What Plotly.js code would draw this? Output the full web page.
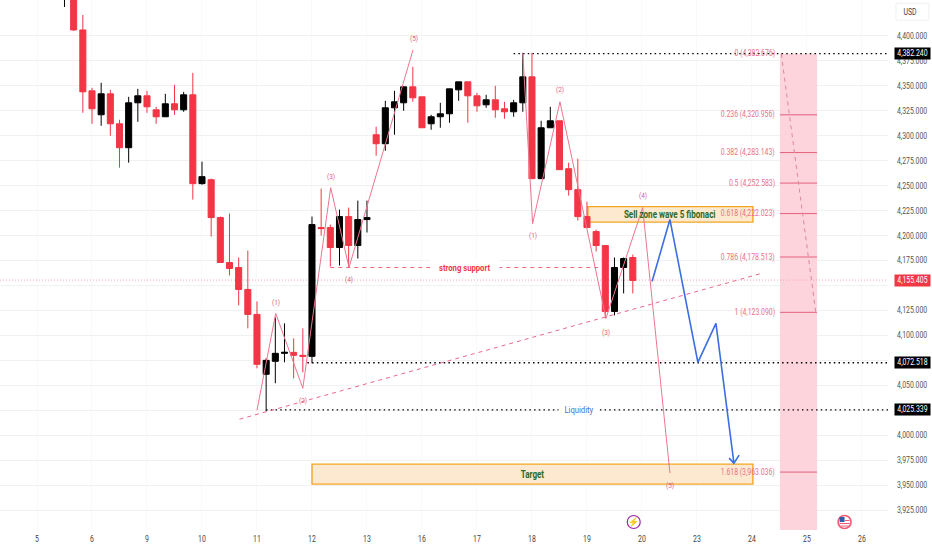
<!DOCTYPE html>
<html><head><meta charset="utf-8">
<script src="https://cdn.plot.ly/plotly-3.0.1.min.js"></script>
<style>html,body{margin:0;padding:0;background:#fff}#c{width:932px;height:550px}</style>
</head><body><div id="c"></div>
<script>
// candle series (4h bars, index from the "5" tick)
const barIndex = [2,3,4,5,6,7,8,9,10,11,12,13,14,15,16,17,18,19,20,21,22,23,24,25,26,27,28,29,30,31,32,33,34,35,36,37,38,39,40,41,42,43,44,45,46,47,48,49,50,51,52,53,54,55,56,57,58,59,60,61,62,63,64,65];
const opens  = [4470,4445,4470,4406,4345,4321,4342,4312,4288,4333,4340,4326,4319,4332,4326,4341,4252,4256,4218,4173,4168,4146,4121,4061,4074,4082,4083,4080,4079,4208,4208,4188,4219,4190,4216,4301,4292,4328,4333,4349,4339,4312,4319,4322,4346,4354,4340,4331,4336,4327,4324,4333,4359,4257,4308,4315,4267,4246,4219,4204,4190,4124,4168,4178];
const highs  = [4480,4480,4480,4421,4348,4353,4346,4316,4339,4347,4345,4329,4342,4351,4344,4363,4274,4257,4219,4222,4178,4185,4134,4077,4118,4112,4097,4107,4219,4247,4211,4226,4228,4235,4235,4309,4335,4345,4349,4369,4339,4321,4333,4347,4354,4354,4343,4341,4350,4334,4336,4383,4383,4315,4329,4315,4273,4277,4234,4206,4190,4178,4178,4181];
const lows   = [4436,4429,4405,4323,4312,4310,4300,4268,4273,4314,4323,4312,4319,4321,4324,4236,4251,4199,4173,4160,4130,4107,4067,4024,4052,4073,4057,4063,4072,4200,4169,4170,4168,4177,4203,4280,4285,4301,4325,4334,4308,4306,4308,4313,4335,4313,4324,4328,4318,4317,4319,4324,4257,4257,4308,4266,4240,4215,4208,4184,4117,4120,4142,4142];
const closes = [4460,4470,4406,4344,4327,4342,4312,4288,4333,4340,4329,4319,4332,4326,4341,4252,4259,4218,4173,4167,4146,4121,4071,4075,4082,4083,4080,4079,4211,4207,4188,4219,4190,4216,4218,4292,4328,4334,4349,4338,4308,4319,4322,4347,4354,4340,4330,4336,4326,4324,4333,4359,4257,4308,4315,4266,4246,4219,4208,4190,4124,4168,4177,4155];

// axes
const xTickVals = [0,6,12,18,24,30,36,42,48,54,60,66,72,78,84,90];
const xTickText = ['5','6','9','10','11','12','13','16','17','18','19','20','23','24','25','26'];
const yTickVals = [3925,3950,3975,4000,4025,4050,4075,4100,4125,4150,4175,4200,4225,4250,4275,4300,4325,4350,4375,4400];
const yTicksBehindTags = [4075,4150];

// elliott wave paths and labels
const waveAX = [24,26.04,29,32.04,34.04,41.02];
const waveAY = [4025,4122,4047,4248,4168,4386];
const waveBX = [53,54.07,57.05,62.07,66.07,69.05];
const waveBY = [4383,4212,4334,4117,4228,3962];
const waveLabelText = ['(1)','(2)','(3)','(4)','(5)','(1)','(2)','(3)','(4)','(5)'];
const waveLabelX = [26.04,29,32.04,34.04,41.1,54.07,57.05,62.07,66.07,69.05];
const waveLabelY = [4133,4035,4259,4156,4397,4200,4346,4103,4240,3950];

// projected path
const projX = [67.1,69.05,72.1,74.07,76.03];
const projY = [4154,4216,4073,4112,3972];
const arrowX = [75.5,76.03,76.6];
const arrowY = [3977,3972,3980];

// fibonacci tool
const fibRatio = ['0','0.236','0.382','0.5','0.618','0.786','1','1.618'];
const fibPrice = [4382.676,4320.956,4283.143,4252.583,4222.023,4178.513,4123.09,3963.036];
const fibBandX = [81.05,85.1];
const fibLabelX = 80.6;
const fibDiagX = [81.2,84.96];
const fibDiagY = [4382,4123];

// levels
const levelHigh = 4382.24, levelMid = 4072.518, levelLow = 4025.339, lastPrice = 4155.405;
const levelHighFrom = 52, levelMidFrom = 29.5, levelLowFrom = 25, xRight = 92.84, xLeft = -4.036;
const supportPrice = 4168, supportX = [32,61.2];
const trendX = [22.1,79], trendY = [4016,4162];
const sellZoneX = [60.1,78.1], sellZoneY = [4213.5,4229];
const targetX = [30,78.1], targetY = [3951,3971];
const yRange = [3905,4436];

const fmt = v => v.toLocaleString('en-US',{minimumFractionDigits:3,maximumFractionDigits:3});
const RED='#f23645', PINK='#ec7590', BLUE='#3b6fe0', GREEN='#2f6a1e', FONT='Roboto, Arial, sans-serif';

const traces = [
 {type:'candlestick',x:barIndex,open:opens,high:highs,low:lows,close:closes,
  increasing:{line:{color:'#000',width:1},fillcolor:'#000'},
  decreasing:{line:{color:RED,width:1},fillcolor:RED},
  whiskerwidth:0,hoverinfo:'skip',showlegend:false},
 {type:'scatter',mode:'lines',x:waveAX,y:waveAY,line:{color:PINK,width:1},hoverinfo:'skip',showlegend:false},
 {type:'scatter',mode:'lines',x:waveBX,y:waveBY,line:{color:PINK,width:1},hoverinfo:'skip',showlegend:false},
 {type:'scatter',mode:'lines',x:projX,y:projY,line:{color:BLUE,width:1.6},hoverinfo:'skip',showlegend:false},
 {type:'scatter',mode:'lines',x:arrowX,y:arrowY,line:{color:BLUE,width:1.6},hoverinfo:'skip',showlegend:false}
];

const dotted='1.5px,3.2px';
const hline=(x0,x1,y,color,width,dash)=>({type:'line',xref:'x',yref:'y',x0,x1,y0:y,y1:y,layer:'between',line:{color,width,dash}});
const shapes=[
 {type:'rect',xref:'x',yref:'y',x0:fibBandX[0],x1:fibBandX[1],y0:yRange[0],y1:levelHigh,layer:'between',fillcolor:'#fdd4db',line:{width:0}},
 ...fibPrice.slice(1).map(p=>hline(fibBandX[0],fibBandX[1],p,'#e4607f',1,'solid')),
 {type:'line',xref:'x',yref:'y',x0:fibDiagX[0],x1:fibDiagX[1],y0:fibDiagY[0],y1:fibDiagY[1],layer:'between',line:{color:'#d88a9c',width:1,dash:'4px,4px'}},
 hline(xLeft,xRight,lastPrice,'#f7a3b0',1,'1px,2px'),
 hline(levelHighFrom,xRight,levelHigh,'#000',1.4,dotted),
 hline(levelMidFrom,xRight,levelMid,'#000',1.4,dotted),
 hline(levelLowFrom,xRight,levelLow,'#000',1.4,dotted),
 hline(supportX[0],supportX[1],supportPrice,'#ea6a84',1,'4px,4px'),
 {type:'line',xref:'x',yref:'y',x0:trendX[0],x1:trendX[1],y0:trendY[0],y1:trendY[1],layer:'between',line:{color:'#e9698a',width:1,dash:'4px,4px'}},
 {type:'rect',xref:'x',yref:'y',x0:sellZoneX[0],x1:sellZoneX[1],y0:sellZoneY[0],y1:sellZoneY[1],layer:'between',fillcolor:'#fce9cf',line:{color:'#f5a623',width:1.4}},
 {type:'rect',xref:'x',yref:'y',x0:targetX[0],x1:targetX[1],y0:targetY[0],y1:targetY[1],layer:'between',fillcolor:'#fce9cf',line:{color:'#f5a623',width:1.4}},
 // currency box
 {type:'rect',xref:'paper',yref:'paper',x0:1.009,x1:1.046,y0:0.962,y1:0.994,layer:'above',fillcolor:'#fff',line:{color:'#f0f0f0',width:1}},
 // calendar markers
 {type:'circle',xref:'x',yref:'y',xsizemode:'pixel',ysizemode:'pixel',xanchor:65.1,yanchor:3913,x0:-6.5,x1:6.5,y0:-6.5,y1:6.5,layer:'above',fillcolor:'#fff',line:{color:'#9c27b0',width:1.2}},
 {type:'circle',xref:'x',yref:'y',xsizemode:'pixel',ysizemode:'pixel',xanchor:88.1,yanchor:3913,x0:-6.5,x1:6.5,y0:-6.5,y1:6.5,layer:'above',fillcolor:'#fff',line:{color:'#ee5a70',width:1.6}},
 {type:'rect',xref:'x',yref:'y',xsizemode:'pixel',ysizemode:'pixel',xanchor:88.1,yanchor:3913,x0:-5,x1:0,y0:0,y1:5,layer:'above',fillcolor:'#2f5fa8',line:{width:0}},
 {type:'rect',xref:'x',yref:'y',xsizemode:'pixel',ysizemode:'pixel',xanchor:88.1,yanchor:3913,x0:-5,x1:5,y0:-2,y1:-1,layer:'above',fillcolor:'#ee5a70',line:{width:0}},
 {type:'rect',xref:'x',yref:'y',xsizemode:'pixel',ysizemode:'pixel',xanchor:88.1,yanchor:3913,x0:-4,x1:4,y0:-4.5,y1:-3.5,layer:'above',fillcolor:'#ee5a70',line:{width:0}},
 {type:'rect',xref:'x',yref:'y',xsizemode:'pixel',ysizemode:'pixel',xanchor:88.1,yanchor:3913,x0:0.5,x1:5,y0:1,y1:2,layer:'above',fillcolor:'#ee5a70',line:{width:0}}
];

const note=(x,y,text,size,color,extra)=>Object.assign({xref:'x',yref:'y',x,y,text,showarrow:false,font:{family:FONT,size,color},xanchor:'center',yanchor:'middle',borderpad:0},extra||{});
const tag=(y,text,bg)=>({xref:'paper',yref:'y',x:1.0068,y,text,showarrow:false,xanchor:'left',yanchor:'middle',align:'center',width:33,height:9,bgcolor:bg,borderpad:1,font:{family:FONT,size:8.5,color:'#fff'}});
const annotations=[
 ...waveLabelText.map((t,i)=>note(waveLabelX[i],waveLabelY[i],t,8,'#e2607e')),
 ...fibRatio.map((r,i)=>note(fibLabelX,fibPrice[i],r+' ('+fmt(fibPrice[i])+')',8.5,'#e8708a',{xanchor:'right',align:'right'})),
 note(46.7,supportPrice,'<b>strong support</b>',9.5,RED,{bgcolor:'#fff',borderpad:2}),
 note(59.1,levelLow,'Liquidity',9.5,'#3f6fe0',{bgcolor:'#fff',borderpad:2}),
 note(69.1,4221,'<b>Sell zone wave 5 fibonaci</b>',10,GREEN),
 note(54.1,3961,'<b>Target</b>',10,GREEN),
 note(65.1,3913,'⚡',9,'#9c27b0'),
 tag(levelHigh,fmt(levelHigh),'#000'),
 tag(levelMid,fmt(levelMid),'#000'),
 tag(levelLow,fmt(levelLow),'#000'),
 tag(lastPrice,fmt(lastPrice),RED),
 {xref:'paper',yref:'paper',x:1.0135,y:0.978,text:'USD',showarrow:false,xanchor:'left',yanchor:'middle',font:{family:FONT,size:8.5,color:'#444'}}
];

const layout={
 width:932,height:550,margin:{l:0,r:44,t:0,b:20},paper_bgcolor:'#fff',plot_bgcolor:'#fff',showlegend:false,
 hovermode:false,
 xaxis:{type:'linear',range:[xLeft,xRight],tickmode:'array',tickvals:xTickVals,ticktext:xTickText,showgrid:true,gridcolor:'#f9f9f9',gridwidth:1,zeroline:false,showline:false,ticks:'',ticklabelstandoff:3,rangeslider:{visible:false},tickfont:{family:FONT,size:8.5,color:'#444'},fixedrange:true},
 yaxis:{side:'right',range:yRange,tickmode:'array',tickvals:yTickVals,ticktext:yTickVals.map(v=>yTicksBehindTags.includes(v)?'':fmt(v)),showgrid:true,gridcolor:'#f1f1f1',gridwidth:1,zeroline:false,showline:false,ticks:'',ticklen:0,ticklabelstandoff:8,tickfont:{family:FONT,size:8.5,color:'#555'},fixedrange:true},
 shapes,annotations,boxgap:0.34,boxgroupgap:0
};
const condense = 0.81;
Plotly.newPlot('c',traces,layout,{displayModeBar:false,staticPlot:true}).then(gd=>{
 gd.querySelectorAll('.annotation [clip-path]').forEach(e=>e.removeAttribute('clip-path'));
 gd.querySelectorAll('.xtick text, .ytick text, .annotation-text').forEach(t=>{
  if(t.textContent==='⚡') return;
  const ax=parseFloat(t.getAttribute('x'))||0;
  const prev=t.getAttribute('transform')||'';
  t.setAttribute('transform',prev+' translate('+ax+' 0) scale('+condense+' 1) translate('+(-ax)+' 0)');
 });
});
</script></body></html>
